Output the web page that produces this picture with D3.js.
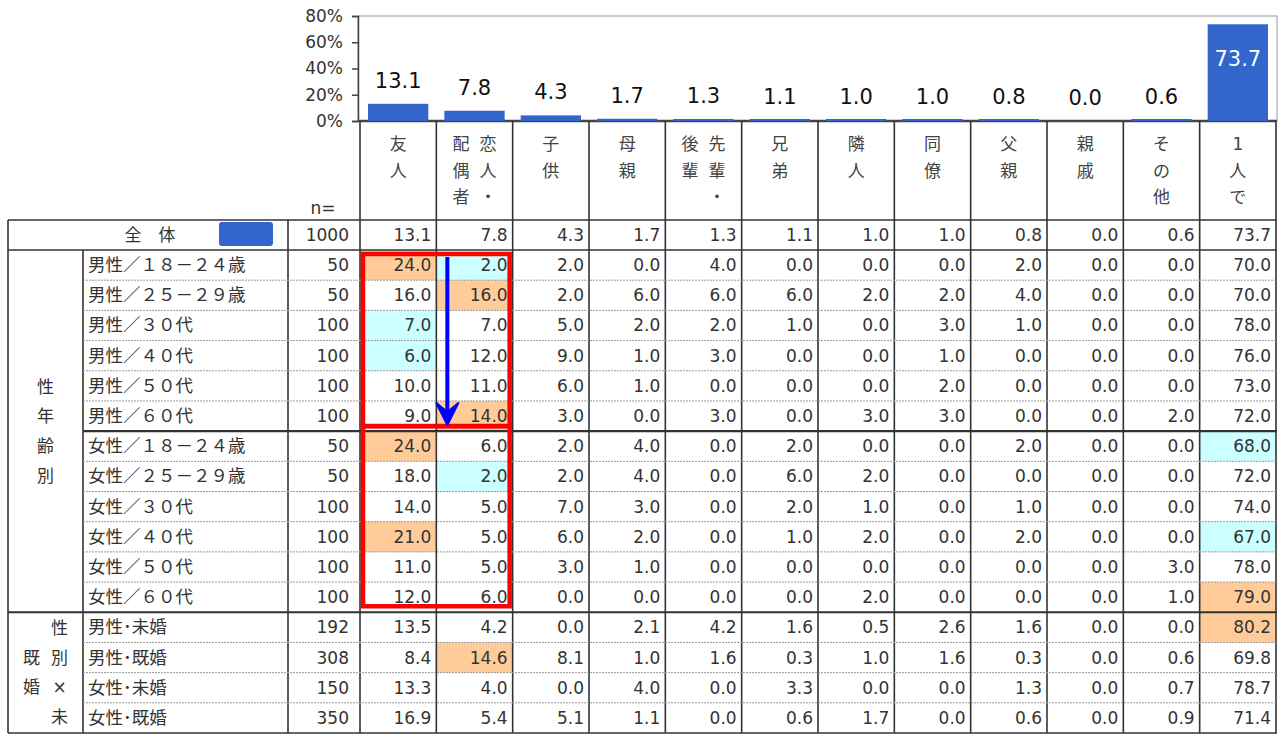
<!DOCTYPE html>
<html><head><meta charset="utf-8">
<script src="https://cdn.jsdelivr.net/npm/d3@7"></script>
<style>
body{margin:0;background:#fff;}
svg{display:block;font-family:"DejaVu Sans","Noto Sans CJK JP",sans-serif;}
</style></head><body>
<svg id="c" width="1287" height="734"></svg>
<script>
const categories = ["友人","恋人・配偶者","子供","母親","先輩・後輩","兄弟","隣人","同僚","父親","親戚","その他","1人で"];
const overallValues = [13.1,7.8,4.3,1.7,1.3,1.1,1.0,1.0,0.8,0.0,0.6,73.7];
const overallN = 1000;
const yTicks = [0,20,40,60,80];
const rowLabels = ["男性／１８－２４歳","男性／２５－２９歳","男性／３０代","男性／４０代","男性／５０代","男性／６０代",
  "女性／１８－２４歳","女性／２５－２９歳","女性／３０代","女性／４０代","女性／５０代","女性／６０代",
  "男性･未婚","男性･既婚","女性･未婚","女性･既婚"];
const rowN = [50,50,100,100,100,100,50,50,100,100,100,100,192,308,150,350];
const groups = [{label:"性年齢別", from:0, to:11, perCol:4},{label:"性別×未既婚", from:12, to:15, perCol:4}];
const tableValues = [
  [24.0,2.0,2.0,0.0,4.0,0.0,0.0,0.0,2.0,0.0,0.0,70.0],
  [16.0,16.0,2.0,6.0,6.0,6.0,2.0,2.0,4.0,0.0,0.0,70.0],
  [7.0,7.0,5.0,2.0,2.0,1.0,0.0,3.0,1.0,0.0,0.0,78.0],
  [6.0,12.0,9.0,1.0,3.0,0.0,0.0,1.0,0.0,0.0,0.0,76.0],
  [10.0,11.0,6.0,1.0,0.0,0.0,0.0,2.0,0.0,0.0,0.0,73.0],
  [9.0,14.0,3.0,0.0,3.0,0.0,3.0,3.0,0.0,0.0,2.0,72.0],
  [24.0,6.0,2.0,4.0,0.0,2.0,0.0,0.0,2.0,0.0,0.0,68.0],
  [18.0,2.0,2.0,4.0,0.0,6.0,2.0,0.0,0.0,0.0,0.0,72.0],
  [14.0,5.0,7.0,3.0,0.0,2.0,1.0,0.0,1.0,0.0,0.0,74.0],
  [21.0,5.0,6.0,2.0,0.0,1.0,2.0,0.0,2.0,0.0,0.0,67.0],
  [11.0,5.0,3.0,1.0,0.0,0.0,0.0,0.0,0.0,0.0,3.0,78.0],
  [12.0,6.0,0.0,0.0,0.0,0.0,2.0,0.0,0.0,0.0,1.0,79.0],
  [13.5,4.2,0.0,2.1,4.2,1.6,0.5,2.6,1.6,0.0,0.0,80.2],
  [8.4,14.6,8.1,1.0,1.6,0.3,1.0,1.6,0.3,0.0,0.6,69.8],
  [13.3,4.0,0.0,4.0,0.0,3.3,0.0,0.0,1.3,0.0,0.7,78.7],
  [16.9,5.4,5.1,1.1,0.0,0.6,1.7,0.0,0.6,0.0,0.9,71.4]
];
// significantly higher / lower cells: [row, col]
const highCells = [[0,0],[1,1],[5,1],[6,0],[9,0],[11,11],[12,11],[13,1]];
const lowCells = [[0,1],[2,0],[3,0],[6,11],[7,1],[9,11]];

const svg = d3.select("#c");
const C_HI = "#FFCC99", C_LO = "#CCFFFF", C_BAR = "#3366CC", C_TXT = "#333";
const LEFT = 8, LABX = 83, NX = 288, DX0 = 360, DX1 = 1276;
const TOP = 220, ROW0 = 250, BOT = 733;

const x = d3.scaleBand().domain(categories).range([DX0, DX1]).paddingInner(0.21).paddingOuter(0.105);
const col = d3.scaleBand().domain(categories).range([DX0, DX1]);
const y = d3.scaleLinear().domain([0, 80]).range([121, 16]);
const row = d3.scaleBand().domain(d3.range(rowLabels.length)).range([ROW0, BOT]);

// ---- bar chart ----
svg.append("rect").attr("x", 358).attr("y", y(80)).attr("width", DX1 + 1 - 358).attr("height", y(0) - y(80))
  .attr("fill", "none").attr("stroke", "#999").attr("stroke-width", 1);
const yAxis = svg.append("g").attr("transform", "translate(358,0)")
  .call(d3.axisLeft(y).tickValues(yTicks).tickFormat(d => d + "%").tickSize(6).tickPadding(9));
yAxis.select(".domain").attr("stroke", "#444").attr("stroke-width", 1.5);
yAxis.selectAll(".tick line").attr("stroke", "#444").attr("stroke-width", 1.5);
yAxis.selectAll("text").attr("font-size", 17).attr("fill", C_TXT).attr("font-family", "DejaVu Sans");

svg.append("line").attr("x1", 358).attr("x2", DX1 + 1).attr("y1", y(0)).attr("y2", y(0))
  .attr("stroke", "#444").attr("stroke-width", 2.5);

svg.append("g").selectAll("rect").data(categories).join("rect")
  .attr("x", d => x(d)).attr("width", x.bandwidth())
  .attr("y", (d, i) => Math.min(y(overallValues[i]), y(0) - 2))
  .attr("height", (d, i) => Math.max(y(0) - y(overallValues[i]), overallValues[i] > 0 ? 2 : 0))
  .attr("fill", C_BAR);

svg.append("g").selectAll("text").data(categories).join("text")
  .attr("x", d => x(d) + x.bandwidth() / 2)
  .attr("y", (d, i) => overallValues[i] > 60 ? y(overallValues[i]) + 42 : y(overallValues[i]) - 16)
  .attr("text-anchor", "middle").attr("font-size", 21)
  .attr("fill", (d, i) => overallValues[i] > 60 ? "#fff" : "#111")
  .text((d, i) => overallValues[i].toFixed(1));

// ---- header ----
svg.append("text").attr("x", 323).attr("y", 214).attr("text-anchor", "middle")
  .attr("font-size", 17).attr("fill", C_TXT).text("n=");
const hdr = svg.append("g");
categories.forEach(c => {
  const chars = Array.from(c);
  const cols = [];
  for (let i = 0; i < chars.length; i += 3) cols.push(chars.slice(i, i + 3));
  const cx = col(c) + col.bandwidth() / 2;
  const gap = 27;
  cols.forEach((cc, k) => {
    const xx = cx + ((cols.length - 1) / 2 - k) * gap;
    cc.forEach((ch, j) => {
      hdr.append("text").attr("x", xx).attr("y", 150 + j * 26.5).attr("text-anchor", "middle")
        .attr("font-size", 17).attr("fill", "#444").text(ch);
    });
  });
});

// ---- table backgrounds ----
const cells = svg.append("g");
highCells.forEach(([r, c]) => cells.append("rect").attr("x", col(categories[c])).attr("y", row(r))
  .attr("width", col.bandwidth()).attr("height", row.bandwidth()).attr("fill", C_HI));
lowCells.forEach(([r, c]) => cells.append("rect").attr("x", col(categories[c])).attr("y", row(r))
  .attr("width", col.bandwidth()).attr("height", row.bandwidth()).attr("fill", C_LO));

// ---- grid lines ----
const grid = svg.append("g").attr("stroke", "#333").attr("stroke-width", 1.6);
for (let r = 1; r < rowLabels.length; r++) {
  const isGroupBreak = groups.some(g => g.from === r) || r === 6;
  if (!isGroupBreak) {
    svg.append("line").attr("x1", LABX).attr("x2", DX1).attr("y1", row(r)).attr("y2", row(r))
      .attr("stroke", "#999").attr("stroke-width", 1).attr("stroke-dasharray", "2,1");
  }
}
const hline = (x1, x2, yy, w) => grid.append("line").attr("x1", x1).attr("x2", x2).attr("y1", yy).attr("y2", yy).attr("stroke-width", w || 1.6);
const vline = (xx, y1, y2) => grid.append("line").attr("x1", xx).attr("x2", xx).attr("y1", y1).attr("y2", y2);
hline(LEFT, DX1 + 1, TOP);
hline(LEFT, DX1 + 1, ROW0);
hline(LABX, DX1 + 1, row(6), 2.2);
hline(LEFT, DX1 + 1, row(12), 2.2);
hline(LEFT, DX1 + 1, BOT);
vline(LEFT, TOP, BOT);
vline(LABX, ROW0, BOT);
vline(NX, TOP, BOT);
categories.forEach(c => vline(col(c), 121, BOT));
vline(DX1, 121, BOT);

// ---- overall row ----
const T = svg.append("g").attr("fill", C_TXT).attr("font-size", 17);
const midY = (y0, h) => y0 + h / 2 + 6;
T.append("text").attr("x", 150).attr("y", midY(TOP, ROW0 - TOP)).attr("text-anchor", "middle").text("全　体");
svg.append("rect").attr("x", 219).attr("y", 222).attr("width", 54).attr("height", 24).attr("rx", 3).attr("fill", C_BAR);
T.append("text").attr("x", 349).attr("y", midY(TOP, ROW0 - TOP)).attr("text-anchor", "end").text(overallN);
categories.forEach((c, i) => T.append("text").attr("x", col(c) + col.bandwidth() - 5)
  .attr("y", midY(TOP, ROW0 - TOP)).attr("text-anchor", "end").text(overallValues[i].toFixed(1)));

// ---- data rows ----
rowLabels.forEach((lab, r) => {
  const yy = midY(row(r), row.bandwidth());
  T.append("text").attr("x", 88).attr("y", yy).attr("font-size", 17.5).text(lab);
  T.append("text").attr("x", 349).attr("y", yy).attr("text-anchor", "end").text(rowN[r]);
  tableValues[r].forEach((v, c) => T.append("text").attr("x", col(categories[c]) + col.bandwidth() - 5)
    .attr("y", yy).attr("text-anchor", "end").text(v.toFixed(1)));
});

// ---- group labels (vertical) ----
groups.forEach(g => {
  const chars = Array.from(g.label);
  const cols = [];
  for (let i = 0; i < chars.length; i += g.perCol) cols.push(chars.slice(i, i + g.perCol));
  const cy = (row(g.from) + row(g.to) + row.bandwidth()) / 2;
  const cx = (LEFT + LABX) / 2;
  const gap = 28, lh = 29.7;
  cols.forEach((cc, k) => {
    const xx = cols.length === 1 ? cx : cx + ((cols.length - 1) / 2 - k) * gap;
    cc.forEach((ch, j) => {
      T.append("text").attr("x", xx).attr("y", cy + (j - (cc.length - 1) / 2) * lh + 6)
        .attr("text-anchor", "middle").attr("font-size", 17).text(ch);
    });
  });
});

// ---- annotations ----
const ann = svg.append("g");
const bx0 = col(categories[0]) + 3, bx1 = col(categories[1]) + col.bandwidth() - 3;
ann.append("rect").attr("x", bx0).attr("y", row(0) + 4).attr("width", bx1 - bx0).attr("height", row(5) + row.bandwidth() - 5 - (row(0) + 4))
  .attr("fill", "none").attr("stroke", "#FF0000").attr("stroke-width", 4.5);
ann.append("rect").attr("x", bx0).attr("y", row(6) - 5).attr("width", bx1 - bx0).attr("height", row(11) + row.bandwidth() - 6 - (row(6) - 5))
  .attr("fill", "none").attr("stroke", "#FF0000").attr("stroke-width", 4.5);
const ax = col(categories[1]) + 11;
const tipY = row(5) + row.bandwidth() - 6;
ann.append("line").attr("x1", ax).attr("x2", ax).attr("y1", row(0) + 7).attr("y2", tipY - 8)
  .attr("stroke", "#0000FF").attr("stroke-width", 4);
ann.append("path").attr("d", `M${ax - 11},${tipY - 22} L${ax},${tipY - 13} L${ax + 11},${tipY - 22} L${ax},${tipY} Z`)
  .attr("fill", "#0000FF").attr("stroke", "#0000FF").attr("stroke-width", 2).attr("stroke-linejoin", "round");
</script>
</body></html>
